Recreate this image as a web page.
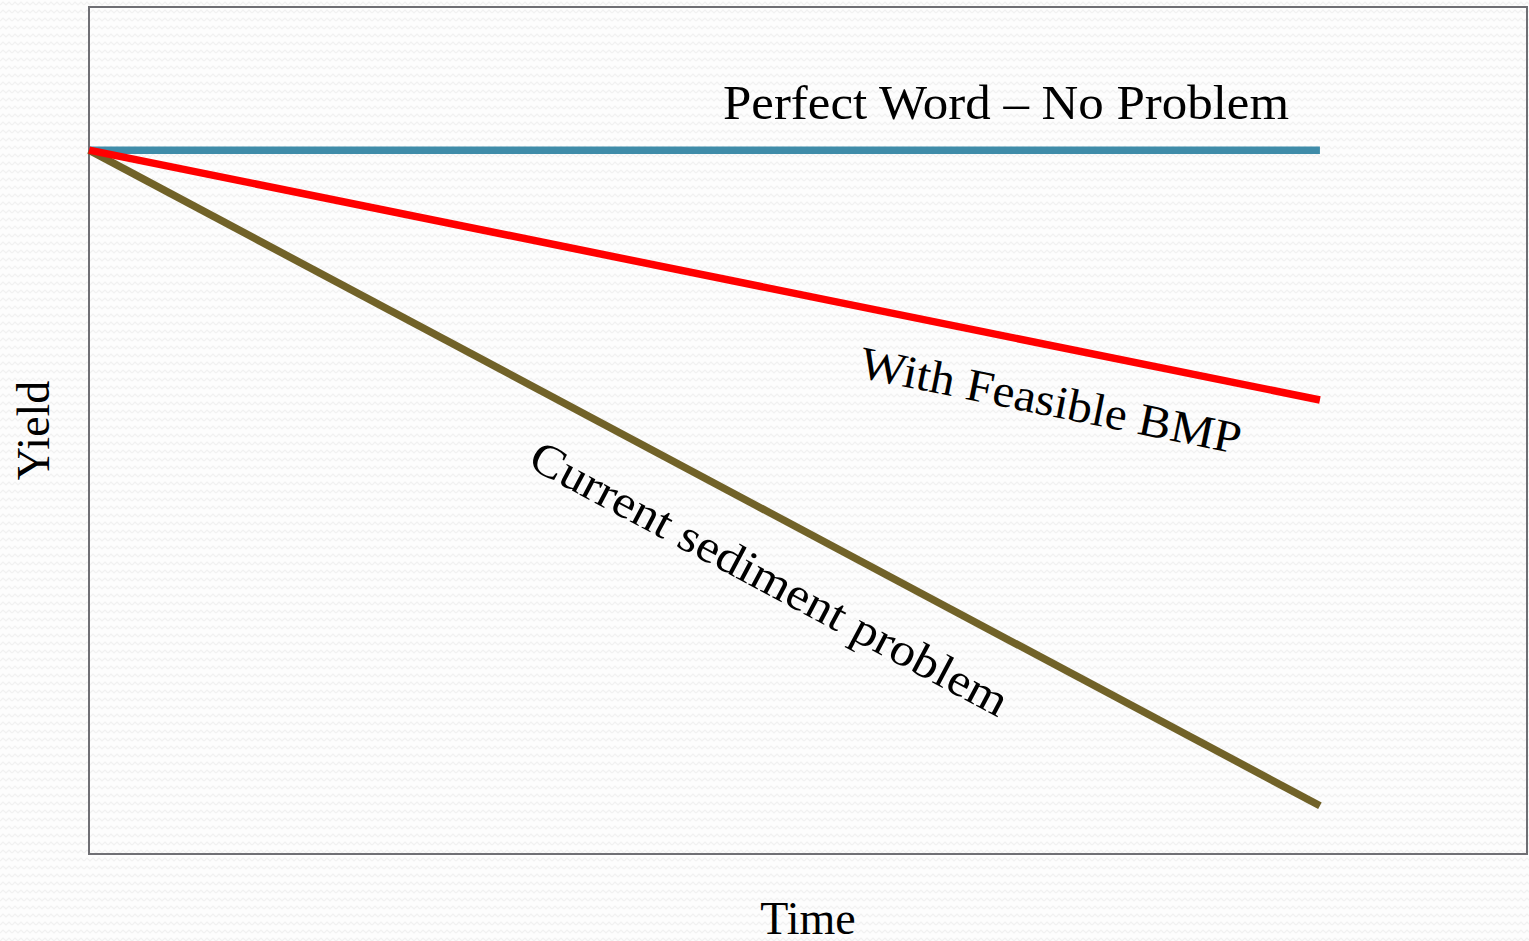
<!DOCTYPE html>
<html>
<head>
<meta charset="utf-8">
<script src="https://cdn.jsdelivr.net/npm/d3@7"></script>
<style>
  html, body { margin: 0; padding: 0; background: #fcfcfc; }
  svg { display: block; }
</style>
</head>
<body>
<div id="chart"></div>
<script>
// Data
const time = [0, 85.6];
const perfectWorld = [83.1, 83.1];
const feasibleBmp = [83.1, 53.6];
const currentSediment = [83.1, 5.7];
const seriesNames = ['Perfect Word – No Problem', 'With Feasible BMP', 'Current sediment problem'];
const seriesColors = ['#3f8ca9', '#ff0000', '#716228'];

// Variables
const w = 1529;
const h = 941;
const margin = { left: 89, top: 7, right: 2, bottom: 87 };
const fontFamily = '"Liberation Serif", "Times New Roman", serif';

const svg = d3
  .select('#chart')
  .append('svg')
  .attr('width', w)
  .attr('height', h);

// faint zig-zag paper texture
const defs = svg.append('defs');
const pattern = defs
  .append('pattern')
  .attr('id', 'paper')
  .attr('width', 12)
  .attr('height', 8)
  .attr('patternUnits', 'userSpaceOnUse');
pattern.append('rect').attr('width', 12).attr('height', 8).attr('fill', '#fdfdfd');
pattern
  .append('path')
  .attr('d', 'M0,5 L3,2 L6,5 L9,2 L12,5')
  .attr('fill', 'none')
  .attr('stroke', '#f1f1f1')
  .attr('stroke-width', 1.2);

svg.append('rect').attr('width', w).attr('height', h).attr('fill', 'url(#paper)');

// Scales
const xScale = d3
  .scaleLinear()
  .domain([0, 100])
  .range([margin.left, w - margin.right]);

const yScale = d3
  .scaleLinear()
  .domain([0, 100])
  .range([h - margin.bottom, margin.top]);

// Plot frame
svg
  .append('rect')
  .attr('x', xScale(0))
  .attr('y', yScale(100))
  .attr('width', xScale(100) - xScale(0))
  .attr('height', yScale(0) - yScale(100))
  .attr('fill', 'none')
  .attr('stroke', '#6f6f74')
  .attr('stroke-width', 2);

const series = [perfectWorld, feasibleBmp, currentSediment].map((vals, i) => ({
  name: seriesNames[i],
  color: seriesColors[i],
  points: vals.map((v, j) => ({ t: time[j], v })),
}));

const line = d3
  .line()
  .x(d => xScale(d.t))
  .y(d => yScale(d.v));

// draw back to front: olive, blue, red; red sits on top at the origin
svg
  .selectAll('path.series')
  .data([series[2], series[0], series[1]])
  .enter()
  .append('path')
  .attr('class', 'series')
  .attr('d', d => line(d.points))
  .attr('fill', 'none')
  .attr('stroke', d => d.color)
  .attr('stroke-width', 7.5)
  .attr('stroke-linecap', 'butt');

// Label helper: place text along a series at fraction f, offset perpendicular
function labelOnLine(s, f, offset, size, len) {
  const p0 = s.points[0];
  const p1 = s.points[1];
  const x0 = xScale(p0.t);
  const y0 = yScale(p0.v);
  const x1 = xScale(p1.t);
  const y1 = yScale(p1.v);
  const ang = Math.atan2(y1 - y0, x1 - x0);
  const cx = x0 + (x1 - x0) * f - Math.sin(ang) * offset;
  const cy = y0 + (y1 - y0) * f + Math.cos(ang) * offset;
  svg
    .append('text')
    .text(s.name)
    .attr('text-anchor', 'middle')
    .attr('dominant-baseline', 'central')
    .attr('textLength', len)
    .attr('lengthAdjust', 'spacingAndGlyphs')
    .attr('transform', `translate(${cx},${cy}) rotate(${(ang * 180) / Math.PI})`)
    .attr('font-family', fontFamily)
    .attr('font-size', size)
    .attr('fill', '#000');
}

// top label, condensed
svg
  .append('text')
  .text(series[0].name)
  .attr('x', 723)
  .attr('y', 119)
  .attr('textLength', 566)
  .attr('lengthAdjust', 'spacingAndGlyphs')
  .attr('font-family', fontFamily)
  .attr('font-size', 48)
  .attr('fill', '#000');

labelOnLine(series[1], 0.79, 54, 46, 388);
labelOnLine(series[2], 0.575, 58, 46, 535);

// Axis titles
svg
  .append('text')
  .text('Yield')
  .attr('text-anchor', 'middle')
  .attr('transform', `translate(49,${(yScale(0) + yScale(100)) / 2}) rotate(-90)`)
  .attr('font-family', fontFamily)
  .attr('font-size', 46)
  .attr('fill', '#000');

svg
  .append('text')
  .text('Time')
  .attr('text-anchor', 'middle')
  .attr('x', 808)
  .attr('y', 934)
  .attr('font-family', fontFamily)
  .attr('font-size', 46)
  .attr('fill', '#000');
</script>
</body>
</html>
